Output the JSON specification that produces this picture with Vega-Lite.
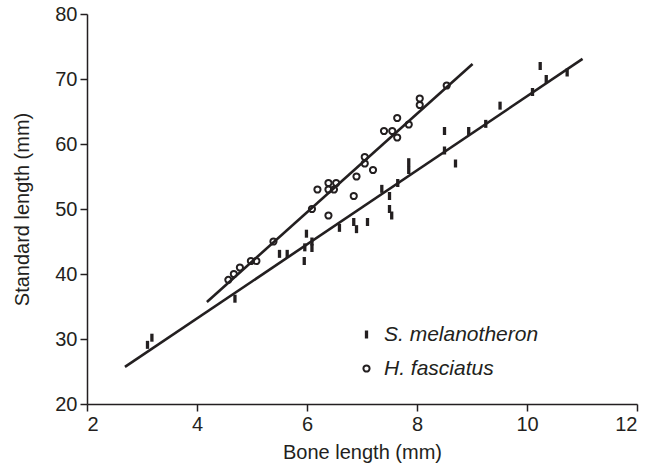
{
  "$schema": "https://vega.github.io/schema/vega-lite/v6.json",
  "autosize": "none",
  "width": 550,
  "height": 390,
  "padding": {"left": 87, "top": 14, "right": 10, "bottom": 69},
  "background": "white",
  "config": {
    "view": {"stroke": null},
    "font": "Liberation Sans",
    "axis": {
      "grid": false,
      "domainColor": "#231f20",
      "domainWidth": 1.5,
      "tickColor": "#231f20",
      "tickWidth": 1.5,
      "tickSize": 7,
      "labelFont": "Liberation Sans",
      "labelFontSize": 20,
      "labelColor": "#231f20",
      "labelPadding": 3,
      "titleFont": "Liberation Sans",
      "titleFontSize": 20,
      "titleFontWeight": "normal",
      "titleColor": "#231f20"
    },
    "legend": {
      "labelFont": "Liberation Sans",
      "labelFontSize": 21,
      "labelFontStyle": "italic",
      "labelColor": "#231f20"
    }
  },
  "datasets": {
    "points": [
      {"species": "S. melanotheron", "bone": 3.10, "sl": 29.1},
      {"species": "S. melanotheron", "bone": 3.18, "sl": 30.2},
      {"species": "S. melanotheron", "bone": 4.69, "sl": 36.2},
      {"species": "S. melanotheron", "bone": 5.50, "sl": 43.1},
      {"species": "S. melanotheron", "bone": 5.64, "sl": 43.1},
      {"species": "S. melanotheron", "bone": 5.95, "sl": 42.0},
      {"species": "S. melanotheron", "bone": 5.96, "sl": 44.1},
      {"species": "S. melanotheron", "bone": 5.99, "sl": 46.2},
      {"species": "S. melanotheron", "bone": 6.09, "sl": 44.0},
      {"species": "S. melanotheron", "bone": 6.09, "sl": 45.0},
      {"species": "S. melanotheron", "bone": 6.59, "sl": 47.1},
      {"species": "S. melanotheron", "bone": 6.85, "sl": 48.0},
      {"species": "S. melanotheron", "bone": 6.90, "sl": 46.9},
      {"species": "S. melanotheron", "bone": 7.10, "sl": 48.0},
      {"species": "S. melanotheron", "bone": 7.36, "sl": 53.1},
      {"species": "S. melanotheron", "bone": 7.50, "sl": 52.0},
      {"species": "S. melanotheron", "bone": 7.50, "sl": 50.0},
      {"species": "S. melanotheron", "bone": 7.54, "sl": 49.0},
      {"species": "S. melanotheron", "bone": 7.65, "sl": 54.0},
      {"species": "S. melanotheron", "bone": 7.85, "sl": 56.0},
      {"species": "S. melanotheron", "bone": 7.85, "sl": 57.2},
      {"species": "S. melanotheron", "bone": 8.50, "sl": 62.0},
      {"species": "S. melanotheron", "bone": 8.50, "sl": 59.0},
      {"species": "S. melanotheron", "bone": 8.70, "sl": 57.0},
      {"species": "S. melanotheron", "bone": 8.94, "sl": 62.0},
      {"species": "S. melanotheron", "bone": 9.25, "sl": 63.1},
      {"species": "S. melanotheron", "bone": 9.51, "sl": 65.9},
      {"species": "S. melanotheron", "bone": 10.10, "sl": 68.0},
      {"species": "S. melanotheron", "bone": 10.24, "sl": 72.0},
      {"species": "S. melanotheron", "bone": 10.35, "sl": 70.0},
      {"species": "S. melanotheron", "bone": 10.73, "sl": 71.0},
      {"species": "H. fasciatus", "bone": 4.57, "sl": 39.1},
      {"species": "H. fasciatus", "bone": 4.67, "sl": 40.0},
      {"species": "H. fasciatus", "bone": 4.78, "sl": 41.0},
      {"species": "H. fasciatus", "bone": 4.98, "sl": 42.0},
      {"species": "H. fasciatus", "bone": 5.08, "sl": 42.0},
      {"species": "H. fasciatus", "bone": 5.39, "sl": 45.0},
      {"species": "H. fasciatus", "bone": 6.09, "sl": 50.0},
      {"species": "H. fasciatus", "bone": 6.19, "sl": 53.0},
      {"species": "H. fasciatus", "bone": 6.39, "sl": 54.0},
      {"species": "H. fasciatus", "bone": 6.53, "sl": 54.0},
      {"species": "H. fasciatus", "bone": 6.39, "sl": 53.0},
      {"species": "H. fasciatus", "bone": 6.49, "sl": 53.0},
      {"species": "H. fasciatus", "bone": 6.39, "sl": 49.0},
      {"species": "H. fasciatus", "bone": 6.85, "sl": 52.0},
      {"species": "H. fasciatus", "bone": 6.90, "sl": 55.0},
      {"species": "H. fasciatus", "bone": 7.05, "sl": 58.0},
      {"species": "H. fasciatus", "bone": 7.05, "sl": 57.0},
      {"species": "H. fasciatus", "bone": 7.20, "sl": 56.0},
      {"species": "H. fasciatus", "bone": 7.40, "sl": 62.0},
      {"species": "H. fasciatus", "bone": 7.55, "sl": 62.0},
      {"species": "H. fasciatus", "bone": 7.64, "sl": 64.0},
      {"species": "H. fasciatus", "bone": 7.64, "sl": 61.0},
      {"species": "H. fasciatus", "bone": 7.85, "sl": 63.0},
      {"species": "H. fasciatus", "bone": 8.05, "sl": 67.0},
      {"species": "H. fasciatus", "bone": 8.05, "sl": 66.0},
      {"species": "H. fasciatus", "bone": 8.54, "sl": 69.0}
    ],
    "fits": [
      {"species": "S. melanotheron", "bone": 2.69, "sl": 25.7},
      {"species": "S. melanotheron", "bone": 11.01, "sl": 73.1},
      {"species": "H. fasciatus", "bone": 4.18, "sl": 35.7},
      {"species": "H. fasciatus", "bone": 9.01, "sl": 72.3}
    ]
  },
  "layer": [
    {
      "data": {"name": "fits"},
      "mark": {"type": "line", "color": "#231f20", "strokeWidth": 2.6, "strokeCap": "butt"},
      "encoding": {
        "x": {"field": "bone", "type": "quantitative"},
        "y": {"field": "sl", "type": "quantitative"},
        "detail": {"field": "species"}
      }
    },
    {
      "data": {"name": "points"},
      "mark": {"type": "point", "filled": false, "stroke": "#231f20", "opacity": 1},
      "encoding": {
        "x": {
          "field": "bone", "type": "quantitative",
          "scale": {"domain": [2, 12], "nice": false, "zero": false},
          "axis": {"title": "Bone length (mm)", "values": [2, 4, 6, 8, 10, 12], "titlePadding": 8}
        },
        "y": {
          "field": "sl", "type": "quantitative",
          "scale": {"domain": [20, 80], "nice": false, "zero": false},
          "axis": {"title": "Standard length (mm)", "values": [20, 30, 40, 50, 60, 70, 80], "titlePadding": 22}
        },
        "shape": {
          "field": "species", "type": "nominal",
          "scale": {"domain": ["S. melanotheron", "H. fasciatus"], "range": ["M0,-1L0,1", "circle"]},
          "legend": {
            "title": null, "orient": "none", "legendX": 269, "legendY": 310,
            "padding": 0, "rowPadding": 11, "labelOffset": 7,
            "symbolStrokeColor": "#231f20", "symbolFillColor": "transparent"
          }
        },
        "strokeWidth": {
          "field": "species", "type": "nominal",
          "scale": {"domain": ["S. melanotheron", "H. fasciatus"], "range": [3.3, 2]}
        },
        "size": {
          "field": "species", "type": "nominal",
          "scale": {"domain": ["S. melanotheron", "H. fasciatus"], "range": [64, 38]}
        }
      }
    }
  ]
}
